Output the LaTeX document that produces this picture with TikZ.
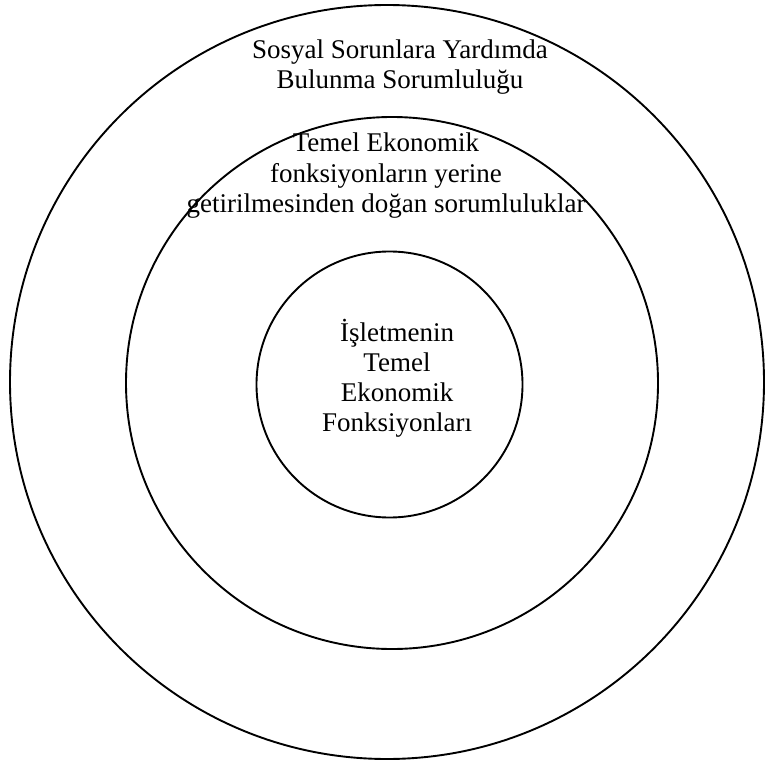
\documentclass[tikz,border=0pt]{standalone}
\usepackage{fontspec}
\setmainfont{Liberation Serif}
\usepackage{tikz}

\begin{document}
\begin{tikzpicture}[x=1pt,y=-1pt,
    ring/.style={draw, circle, line width=1.9pt, inner sep=0pt},
    label/.style={align=center, font=\fontsize{27}{30}\selectfont}]
          \useasboundingbox (0,0) rectangle (766,767);

          % Rings
          \node[ring, minimum size=754pt] (outer) at (387,382) {};
          \node[ring, minimum size=532pt] (middle) at (392,383) {};
          \node[ring, minimum size=266pt] (inner) at (389.5,384.5) {};

          % Texts
          \node[label] (social) at (400,67) {Sosyal Sorunlara Yardımda\\Bulunma Sorumluluğu};
          \node[label, font=\fontsize{27}{30.5}\selectfont] (duties) at (386,176)
            {Temel Ekonomik\\fonksiyonların yerine\\getirilmesinden doğan sorumluluklar};
          \node[label] (core) at (397,378.5) {İşletmenin\\Temel\\Ekonomik\\Fonksiyonları};
        \end{tikzpicture}
\end{document}
